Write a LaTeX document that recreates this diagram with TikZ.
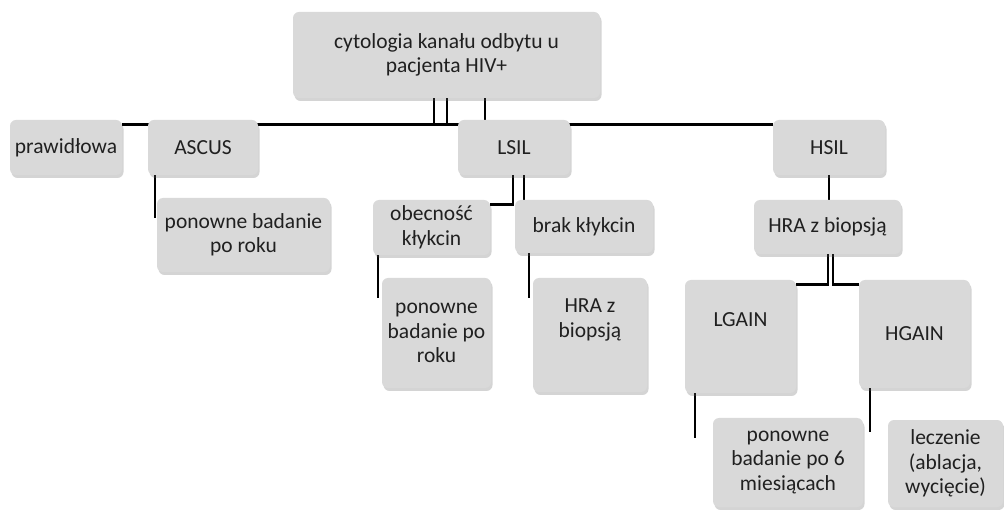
\documentclass[tikz,border=0pt]{standalone}
\usepackage{fontspec}
\setmainfont{Carlito}
\usetikzlibrary{shadows,backgrounds}
\definecolor{boxgray}{HTML}{D9D9D9}
\definecolor{txt}{HTML}{202020}
\tikzset{
  box/.style={fill=boxgray, rounded corners=6pt, inner sep=2pt, align=center,
    text=txt, font=\fontsize{21.5}{24.5}\selectfont,
    drop shadow={shadow xshift=1.5pt, shadow yshift=-3pt, opacity=0.28, fill=black!60}},
  lbl/.style={align=center, text=txt, font=\fontsize{21.5}{24.5}\selectfont, inner sep=0pt},
  conn/.style={line width=2.6pt, black}
}
\begin{document}
\begin{tikzpicture}[x=1pt,y=-1pt]
\useasboundingbox (0,0) rectangle (1004,510);
% boxes
\node[box, minimum width=307pt, minimum height=86pt] (top) at (446.5,55) {cytologia kanału odbytu u\\pacjenta HIV+};
\node[box, minimum width=112pt, minimum height=55pt] (praw) at (66,147.5) {prawidłowa};
\node[box, minimum width=110pt, minimum height=55pt] (ascus) at (203,147.5) {ASCUS};
\node[box, minimum width=112pt, minimum height=55pt] (lsil) at (514,147.5) {LSIL};
\node[box, minimum width=112pt, minimum height=55pt] (hsil) at (829,147.5) {HSIL};
\node[box, minimum width=173pt, minimum height=74pt] (pon1) at (243.5,235) {ponowne badanie\\po roku};
\node[box, minimum width=117pt, minimum height=55pt] (obec) at (431.5,227.5) {obecność\\kłykcin};
\node[box, minimum width=138pt, minimum height=53pt] (brak) at (584,226.5) {brak kłykcin};
\node[box, minimum width=109pt, minimum height=110pt] (pon2) at (436.5,333) {ponowne\\badanie po\\roku};
\node[box, minimum width=114pt, minimum height=114pt] (hra1) at (590,335) {};
\node[lbl] (hra1t) at (590,320) {HRA z\\biopsją};
\node[box, minimum width=147pt, minimum height=54pt] (hra2) at (827.5,227) {HRA z biopsją};
\node[box, minimum width=111pt, minimum height=113pt] (lgain) at (740.5,336.5) {};
\node[lbl] (lgaint) at (740.5,320) {LGAIN};
\node[box, minimum width=111pt, minimum height=108pt] (hgain) at (914.5,334) {HGAIN};
\node[box, minimum width=150pt, minimum height=89pt] (pon3) at (788,462.5) {ponowne\\badanie po 6\\miesiącach};
\node[box, minimum width=115pt, minimum height=87pt] (lecz) at (945.5,463.5) {leczenie\\(ablacja,\\wycięcie)};
% connectors
\begin{pgfonlayer}{background}
\draw[conn] ([yshift=-5pt]praw.north east) -- ([yshift=-5pt]hsil.north west);
\draw[conn] ([xshift=-12.5pt]top.south) -- ([xshift=-12.5pt,yshift=-27pt]top.south);
\draw[conn] ([xshift=0.5pt]top.south) -- ([xshift=0.5pt,yshift=-27pt]top.south);
\draw[conn] ([xshift=38.5pt]top.south) -- ([xshift=38.5pt]top.south |- lsil.north);
\draw[conn] ([xshift=7pt]ascus.south west) -- ++(0,43);
\draw[conn] ([xshift=-1pt]lsil.south) |- ([yshift=-5pt]obec.north east);
\draw[conn] ([xshift=10pt]lsil.south) -- ([xshift=10pt]lsil.south |- brak.north);
\draw[conn] ([xshift=5pt]obec.south west) -- ++(0,43);
\draw[conn] ([xshift=14pt]brak.south west) -- ++(0,45);
\draw[conn] (hsil.south) -- (hsil.south |- hra2.north);
\draw[conn] ([xshift=0.5pt]hra2.south) |- ([yshift=-5pt]lgain.north east);
\draw[conn] ([xshift=5.5pt]hra2.south) |- ([yshift=-5pt]hgain.north west);
\draw[conn] ([xshift=10pt]lgain.south west) -- ++(0,45);
\draw[conn] ([xshift=11pt]hgain.south west) -- ++(0,44);
\end{pgfonlayer}
\end{tikzpicture}
\end{document}
